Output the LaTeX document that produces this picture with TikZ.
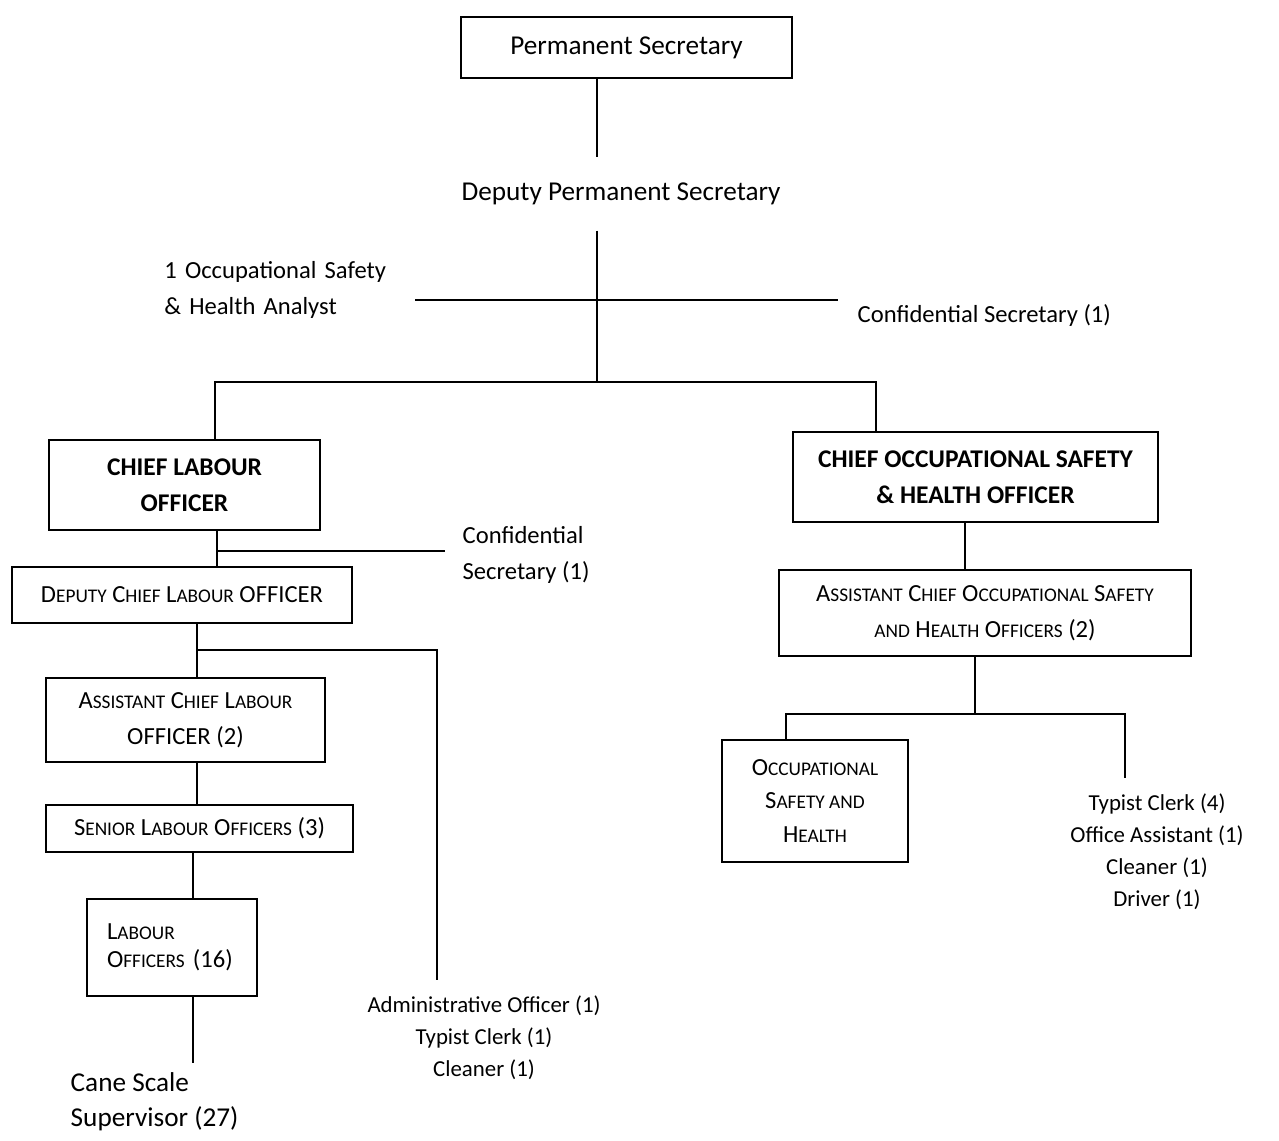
\documentclass[tikz,border=0pt]{standalone}
\usepackage{fontspec}
\setmainfont{Carlito}
\usepackage{tikz}
\newcommand\smcap[1]{{\fontsize{11}{13}\selectfont #1}}

\begin{document}
\begin{tikzpicture}[x=0.02cm,y=-0.02cm,line width=0.8pt,
    every node/.style={font=\fontsize{14}{20.5}\selectfont},
    box/.style={draw,line width=0.8pt,align=center,inner sep=0pt},
    title/.style={font=\fontsize{14.5}{20.5}\selectfont\bfseries}]
      \useasboundingbox (0,0) rectangle (1279,1141);

      % top of the ministry
      \node (ps) [box,minimum width=6.62cm,minimum height=1.22cm,font=\fontsize{15.5}{20}\selectfont] at (626.5,47.5) {Permanent Secretary};
      \node (dps) [minimum height=1.44cm,inner sep=0pt,font=\fontsize{15.5}{20}\selectfont] at (621,194) {Deputy Permanent Secretary};
      \node (ana) [anchor=east,text width=5cm,align=left,inner sep=0pt] at (415,290) {1 Occupational Safety\\\& Health Analyst};
      \node (cs) [anchor=west,inner xsep=0.38cm,inner ysep=0pt] at (838,315) {Confidential Secretary (1)};

      % labour side
      \node (clo) [box,title,minimum width=5.42cm,minimum height=1.8cm] at (184.5,485) {CHIEF LABOUR\\OFFICER};
      \node (cs2) [anchor=west,align=left,inner xsep=0.34cm,inner ysep=0pt] at (445,555) {Confidential\\Secretary (1)};
      \node (dclo) [box,minimum width=6.8cm,minimum height=1.12cm] at (182,595) {D\smcap{EPUTY} C\smcap{HIEF} L\smcap{ABOUR} OFFICER};
      \node (aclo) [box,minimum width=5.58cm,minimum height=1.68cm] at (185.5,720) {A\smcap{SSISTANT} C\smcap{HIEF} L\smcap{ABOUR}\\OFFICER (2)};
      \node (slo) [box,minimum width=6.14cm,minimum height=0.94cm] at (199.5,828.5) {S\smcap{ENIOR} L\smcap{ABOUR} O\smcap{FFICERS} (3)};
      \node (lo) [box,minimum width=3.4cm,minimum height=1.94cm,text width=2.6cm,align=left,inner xsep=0.4cm,font=\fontsize{14}{16}\selectfont] at (172,947.5) {L\smcap{ABOUR}\\O\smcap{FFICERS} (16)};
      \node (cane) [anchor=north west,align=left,inner xsep=0pt,inner ysep=0.18cm,font=\fontsize{15.5}{19.8}\selectfont] at (70,1063) {Cane Scale\\Supervisor (27)};
      \node (adm) [anchor=north,align=center,inner ysep=0.3cm,font=\fontsize{13}{18.2}\selectfont] at (484,980) {Administrative Officer (1)\\Typist Clerk (1)\\Cleaner (1)};

      % safety and health side
      \node (cosh) [box,title,minimum width=7.3cm,minimum height=1.8cm] at (975.5,477) {CHIEF OCCUPATIONAL SAFETY\\\& HEALTH OFFICER};
      \node (acosh) [box,minimum width=8.24cm,minimum height=1.72cm] at (985,613) {A\smcap{SSISTANT} C\smcap{HIEF} O\smcap{CCUPATIONAL} S\smcap{AFETY}\\\smcap{AND} H\smcap{EALTH} O\smcap{FFICERS} (2)};
      \node (osh) [box,minimum width=3.72cm,minimum height=2.44cm,font=\fontsize{14}{18.8}\selectfont] at (815,801) {O\smcap{CCUPATIONAL}\\S\smcap{AFETY AND}\\H\smcap{EALTH}};
      \node (staff) [anchor=north,align=center,inner ysep=0.3cm,font=\fontsize{13}{18.2}\selectfont] at (1157,778) {Typist Clerk (4)\\Office Assistant (1)\\Cleaner (1)\\Driver (1)};

      \coordinate (j1) at (597,300);
      \coordinate (j2) at (597,382);
      \coordinate (j2l) at (215,382);
      \coordinate (j2r) at (876,382);
      \coordinate (j3) at (217,551);
      \coordinate (j4) at (197,650);
      \coordinate (j4r) at (437,650);
      \coordinate (j5) at (193,870);
      \coordinate (j6) at (965,546);
      \coordinate (j7) at (975,714);
      \coordinate (j7l) at (786,714);
      \coordinate (j7r) at (1125,714);

      \draw (ps.south -| j1) -- (dps.north -| j1);
      \draw (dps.south -| j1) -- (j2);
      \draw (ana.east |- j1) -- (cs.west |- j1);
      \draw (clo.north -| j2l) -- (j2l) -- (j2r) -- (cosh.north -| j2r);

      \draw (clo.south -| j3) -- (dclo.north -| j3);
      \draw (j3) -- (cs2.west |- j3);
      \draw (dclo.south -| j4) -- (aclo.north -| j4);
      \draw (j4) -- (j4r) -- (adm.north -| j4r);
      \draw (aclo.south -| j4) -- (slo.north -| j4);
      \draw (slo.south -| j5) -- (lo.north -| j5);
      \draw (lo.south -| j5) -- (cane.north -| j5);

      \draw (cosh.south -| j6) -- (acosh.north -| j6);
      \draw (acosh.south -| j7) -- (j7);
      \draw (osh.north -| j7l) -- (j7l) -- (j7r) -- (staff.north -| j7r);

    \end{tikzpicture}
\end{document}
